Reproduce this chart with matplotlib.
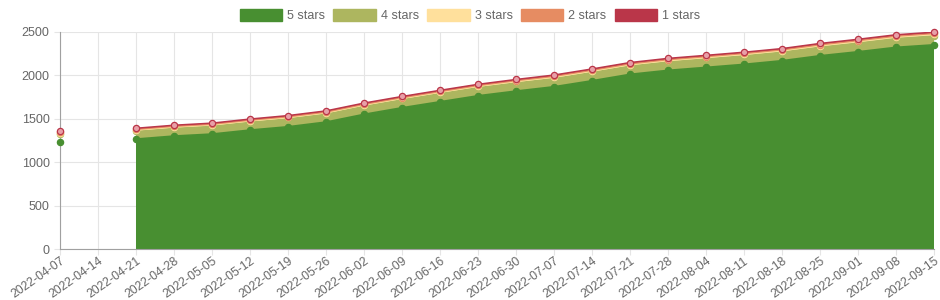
import numpy as np
import matplotlib
matplotlib.use("Agg")
import matplotlib.pyplot as plt
from matplotlib.patches import Patch

plt.rcParams['font.family'] = ['Liberation Sans', 'DejaVu Sans']

dates = ["2022-04-07", "2022-04-14", "2022-04-21", "2022-04-28", "2022-05-05",
         "2022-05-12", "2022-05-19", "2022-05-26", "2022-06-02", "2022-06-09",
         "2022-06-16", "2022-06-23", "2022-06-30", "2022-07-07", "2022-07-14",
         "2022-07-21", "2022-07-28", "2022-08-04", "2022-08-11", "2022-08-18",
         "2022-08-25", "2022-09-01", "2022-09-08", "2022-09-15"]

# counts per rating, None where there is no data for that week
five = [1236, None, 1267, 1302, 1325, 1371, 1409, 1463, 1552, 1628, 1697, 1766,
        1820, 1870, 1939, 2013, 2059, 2093, 2128, 2170, 2227, 2273, 2324, 2353]
four = [85, None, 88, 88, 89, 89, 90, 90, 91, 91, 92, 92,
        93, 93, 94, 94, 95, 96, 97, 97, 98, 99, 100, 101]
three = [16, None, 16, 16, 16, 17, 17, 17, 17, 17, 18, 18,
         18, 18, 18, 18, 19, 19, 19, 19, 19, 20, 20, 20]
two = [7, None, 8, 8, 8, 8, 8, 8, 8, 8, 8, 8,
       9, 9, 9, 9, 9, 9, 9, 9, 9, 9, 9, 9]
one = [12, None, 12, 12, 12, 12, 13, 13, 13, 13, 13, 13,
       13, 14, 14, 14, 14, 14, 14, 14, 15, 15, 15, 15]

labels = ["5 stars", "4 stars", "3 stars", "2 stars", "1 stars"]
colors = ["#488f31", "#adb65f", "#ffe09c", "#e68c62", "#ba3649"]
point_fill = ["#488f31", "#adb65f", "#ffe09c", "#f0b49a", "#e8a0a8"]


def to_arr(vals):
    return np.array([np.nan if v is None else v for v in vals], dtype=float)


series = [to_arr(s) for s in (five, four, three, two, one)]
cum = np.cumsum(np.vstack(series), axis=0)
x = np.arange(len(dates))

fig = plt.figure(figsize=(9.4, 3.0), dpi=100)
ax = fig.add_axes([60 / 940, 51 / 300, 874 / 940, 217 / 300])

base = np.zeros(len(dates))
for i in range(len(series)):
    top = cum[i]
    lower = base if i == 0 else cum[i - 1]
    ax.fill_between(x, lower, top, color=colors[i], lw=0, zorder=2 + i * 0.1)
    ax.plot(x, top, color=colors[i], lw=1.1, zorder=3 + i * 0.1)
for i in range(len(series)):
    ax.plot(x, cum[i], ls='none', marker='o', ms=4.5, mfc=point_fill[i],
            mec=colors[i], mew=0.9, zorder=4 + i * 0.1, clip_on=False)

ax.set_xlim(0, len(dates) - 1)
ax.set_ylim(0, 2500)
ax.set_yticks(np.arange(0, 2501, 500))
ax.set_xticks(x)
ax.set_xticklabels(dates, rotation=35, ha='right', rotation_mode='anchor')

ax.grid(True, color='#e5e5e5', lw=0.8, zorder=0)
ax.set_axisbelow(True)
for s in ['top', 'right']:
    ax.spines[s].set_visible(False)
for s in ['left', 'bottom']:
    ax.spines[s].set_color('#a0a0a0')
    ax.spines[s].set_linewidth(0.8)
ax.tick_params(colors='#e5e5e5', labelcolor='#666666', labelsize=9,
               length=4, width=0.8)
ax.tick_params(axis='x', labelsize=8.7, pad=0.5)

handles = [Patch(facecolor=c, edgecolor=c, label=l) for c, l in zip(colors, labels)]
fig.legend(handles=handles, loc='center', bbox_to_anchor=(0.5, 0.948), ncol=5,
           frameon=False, fontsize=9, handlelength=3.4, handleheight=1.15,
           handletextpad=0.4, columnspacing=0.65, labelcolor='#666666')

fig.savefig("out.png", dpi=100)
